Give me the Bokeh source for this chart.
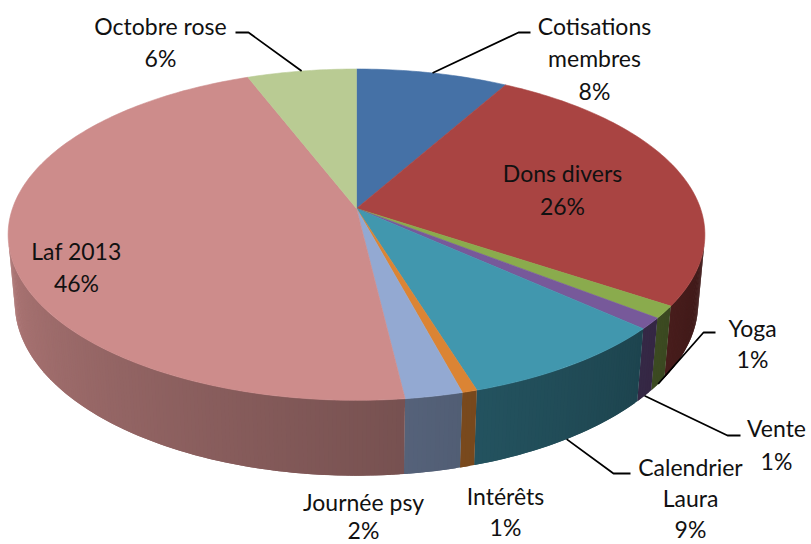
import numpy as np
from bokeh.plotting import figure
from bokeh.models import Range1d
from bokeh.embed import file_html
from bokeh.resources import INLINE
from bokeh.core.properties import value

# ---------------- data ----------------
categories = ["Cotisations membres", "Dons divers", "Yoga", "Vente", "Calendrier Laura",
              "Intérêts", "Journée psy", "Laf 2013", "Octobre rose"]
label_lines = [["Cotisations", "membres"], ["Dons divers"], ["Yoga"], ["Vente"],
               ["Calendrier", "Laura"], ["Intérêts"], ["Journée psy"], ["Laf 2013"], ["Octobre rose"]]
values = [8.2, 26.1, 1.2, 1.1, 8.6, 0.6, 2.3, 46.0, 5.9]
colors = ["#4571A6", "#A94442", "#8AAB4D", "#77599A", "#4197AE",
          "#DB8434", "#93A9D2", "#CD8C8B", "#B9CB93"]

# ---------------- layout (pixel positions of labels) ----------------
# cx, first line y, line step, leader: (attach edge, elbow x, elbow y, end x) or None
label_layout = {
    "Cotisations membres": (594, 25, 32.5, ("top", 518, 32, 530)),
    "Dons divers": (562, 172, 33, None),
    "Yoga": (752, 327, 31, ("bottom", 703, 332, 715)),
    "Vente": (776, 427, 33, ("bottom", 727, 435, 740)),
    "Calendrier Laura": (690, 466, 31, ("bottom", 613, 473, 630)),
    "Intérêts": (505, 495, 31, None),
    "Journée psy": (363, 501, 28, None),
    "Laf 2013": (76, 250, 32, None),
    "Octobre rose": (160, 25, 32, ("top", 248, 32, 235)),
}

# ---------------- 3D geometry ----------------
CX, CY = 356.0, 208.0
F = 1923.0
D0 = 5.59
PHI = np.radians(28.0)
H = 0.2257


def project(t, h):
    X = np.sin(t)
    Z = np.cos(t)
    yc = Z * np.sin(PHI) - h * np.cos(PHI)
    zc = D0 + Z * np.cos(PHI) + h * np.sin(PHI)
    return CX + F * X / zc, CY - F * yc / zc


def hex_to_rgb(c):
    c = c.lstrip("#")
    return tuple(int(c[i:i + 2], 16) for i in (0, 2, 4))


def shade(c, f):
    r, g, b = hex_to_rgb(c)
    return "#%02x%02x%02x" % tuple(int(max(0, min(255, round(v * f)))) for v in (r, g, b))


total = float(sum(values))
cum = np.concatenate([[0.0], np.cumsum(values)]) / total * 2 * np.pi

vis_lo = np.arccos(-1.0 / (D0 * np.cos(PHI)))
vis_hi = 2 * np.pi - vis_lo

W, HGT = 811, 544
p = figure(width=W, height=HGT, x_range=Range1d(0, W), y_range=Range1d(HGT, 0),
           output_backend="svg", toolbar_location=None, min_border=0,
           x_axis_location=None, y_axis_location=None)
p.grid.visible = False
p.outline_line_color = None
p.background_fill_color = "white"
p.border_fill_color = "white"

# ---- side wall strips (overlapping to hide seams) ----
wx, wy, wc = [], [], []
for i in range(len(values)):
    a0, a1 = max(cum[i], vis_lo), min(cum[i + 1], vis_hi)
    if a1 <= a0:
        continue
    n = max(2, int(np.degrees(a1 - a0) / 0.6) + 1)
    ts = np.linspace(a0, a1, n)
    step = ts[1] - ts[0]
    for ta, tb in zip(ts[:-1], ts[1:]):
        te = min(tb + step, a1)
        x1, y1 = project(ta, 0)
        x2, y2 = project(te, 0)
        x3, y3 = project(te, H)
        x4, y4 = project(ta, H)
        wx.append([x1, x2, x3, x4])
        wy.append([y1, y2, y3, y4])
        tm = np.degrees(0.5 * (ta + tb))
        f = min(0.9, max(0.32, 0.6 + 0.0031 * (tm - 180)))
        wc.append(shade(colors[i], f))
p.patches(xs=wx, ys=wy, fill_color=wc, line_color=None)

# ---- top face ----
tx, ty = [], []
for i in range(len(values)):
    ts = np.linspace(cum[i], cum[i + 1], max(3, int(np.degrees(cum[i + 1] - cum[i])) + 2))
    xs, ys = project(ts, 0)
    tx.append([CX] + list(xs))
    ty.append([CY] + list(ys))
p.patches(xs=tx, ys=ty, fill_color=colors, line_color=colors, line_width=0.6)

# ---- labels and leader lines ----
lx, ly, lt = [], [], []
for i, cat in enumerate(categories):
    cx, y0, step, leader = label_layout[cat]
    lines = label_lines[i] + ["%d%%" % int(round(values[i] / total * 100))]
    for k, s in enumerate(lines):
        lx.append(cx)
        ly.append(y0 + k * step)
        lt.append(s)
    if leader is not None:
        edge, ex, ey, endx = leader
        tm = 0.5 * (cum[i] + cum[i + 1])
        ax, ay = project(tm, 0 if edge == "top" else H)
        p.line([ax, ex, endx], [ay, ey, ey], line_color="black", line_width=1.8)

p.text(x=lx, y=ly, text=lt, text_font=value("Lato"), text_font_size="23px",
       text_align="center", text_baseline="middle", text_color="#111111")

open("out.html", "w").write(file_html(p, INLINE))
